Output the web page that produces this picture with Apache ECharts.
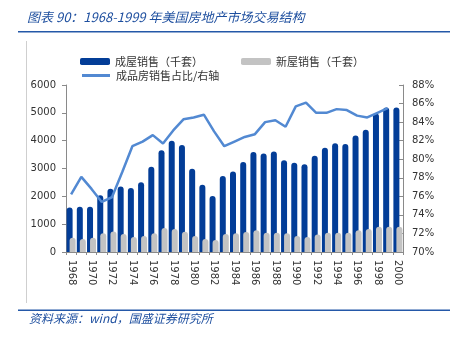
<!DOCTYPE html>
<html>
<head>
<meta charset="utf-8">
<script src="https://cdn.jsdelivr.net/npm/echarts@6/dist/echarts.min.js"></script>
<style>
  html, body { margin: 0; padding: 0; background: #fff; }
  #chart { width: 459px; height: 339px; }
</style>
</head>
<body>
<div id="chart"></div>
<script>
// US housing market 1968-2000: existing vs new home sales (thousand units) and existing-home share
var years = ['1968','1969','1970','1971','1972','1973','1974','1975','1976','1977','1978',
             '1979','1980','1981','1982','1983','1984','1985','1986','1987','1988','1989',
             '1990','1991','1992','1993','1994','1995','1996','1997','1998','1999','2000'];

var existingSales = [1600,1630,1630,2040,2270,2350,2300,2510,3060,3660,4000,
                     3840,2990,2420,2010,2730,2890,3230,3590,3540,3610,3300,
                     3210,3150,3460,3750,3910,3880,4190,4390,4980,5190,5190];

var newSales = [515,470,515,670,740,650,540,575,670,860,825,
                730,575,470,430,650,670,720,780,695,695,670,
                575,540,625,695,695,695,780,825,910,910,910];

var existingShare = [76.2,78.1,76.8,75.4,75.9,78.6,81.4,81.9,82.6,81.7,83.1,
                     84.3,84.5,84.8,83.0,81.4,81.9,82.4,82.7,84.0,84.2,83.5,
                     85.7,86.1,85.0,85.0,85.4,85.3,84.7,84.5,85.0,85.5,null];

var leftTicks = { min: 0, max: 6000, interval: 1000 };
var rightTicks = { min: 70, max: 88, interval: 2 };

var numFont = 'DejaVu Sans, Verdana, sans-serif';
var cjkFont = '"Noto Sans CJK SC", sans-serif';
var titleBlue = '#1e4f9f';

var chart = echarts.init(document.getElementById('chart'), null, { renderer: 'canvas' });

chart.setOption({
  animation: false,
  grid: { left: 66, right: 56, top: 85, bottom: 87, containLabel: false },
  graphic: [
    { type: 'text', left: 27, top: 11,
      style: { text: '图表 90：1968-1999 年美国房地产市场交易结构', fill: titleBlue,
               font: 'italic 13px ' + cjkFont } },
    { type: 'rect', shape: { x: 18, y: 31, width: 432, height: 1.5 }, style: { fill: '#2458a8' } },
    { type: 'rect', shape: { x: 26, y: 41, width: 1, height: 262 }, style: { fill: '#cfcfcf' } },
    { type: 'rect', shape: { x: 18, y: 309.5, width: 432, height: 1.5 }, style: { fill: '#2458a8' } },
    { type: 'text', left: 29, top: 312,
      style: { text: '资料来源：wind，国盛证券研究所', fill: titleBlue,
               font: 'italic 12px ' + cjkFont } }
  ],
  legend: [
    {
      data: ['成屋销售（千套）', '新屋销售（千套）'],
      left: 75, top: 51, itemWidth: 30, itemHeight: 7, itemGap: 38,
      icon: 'roundRect',
      textStyle: { fontFamily: cjkFont, fontSize: 11, color: '#333' }
    },
    {
      data: ['成品房销售占比/右轴'],
      left: 77, top: 65, itemWidth: 28, itemHeight: 3,
      icon: 'rect',
      textStyle: { fontFamily: cjkFont, fontSize: 11, color: '#333', padding: [0, 0, 0, 1] }
    }
  ],
  xAxis: {
    type: 'category',
    data: years,
    axisLine: { lineStyle: { color: '#8a8a8a', width: 1 } },
    axisTick: { show: true, interval: 0, length: 3, lineStyle: { color: '#8a8a8a' } },
    axisLabel: { interval: 1, rotate: -90, margin: 8, color: '#333',
                 fontFamily: numFont, fontSize: 10 }
  },
  yAxis: [
    {
      type: 'value', min: leftTicks.min, max: leftTicks.max, interval: leftTicks.interval,
      splitLine: { show: false },
      axisLine: { show: true, lineStyle: { color: '#8a8a8a' } },
      axisTick: { show: true, length: 4, lineStyle: { color: '#8a8a8a' } },
      axisLabel: { color: '#333', fontFamily: numFont, fontSize: 10, margin: 10,
                   formatter: function (v) { return String(v); } }
    },
    {
      type: 'value', min: rightTicks.min, max: rightTicks.max, interval: rightTicks.interval,
      position: 'right',
      splitLine: { show: false },
      axisLine: { show: true, lineStyle: { color: '#8a8a8a' } },
      axisTick: { show: true, inside: true, length: 4, lineStyle: { color: '#8a8a8a' } },
      axisLabel: { color: '#333', fontFamily: numFont, fontSize: 10, margin: 9,
                   formatter: '{value}%' }
    }
  ],
  series: [
    {
      name: '成屋销售（千套）', type: 'bar', data: existingSales,
      barWidth: 6, barGap: '-50%',
      itemStyle: { color: '#033d97', borderRadius: [3, 3, 0, 0] }
    },
    {
      name: '新屋销售（千套）', type: 'bar', data: newSales,
      barWidth: 6, barGap: '-50%',
      itemStyle: { color: '#c3c3c3', borderRadius: [3, 3, 0, 0] }
    },
    {
      name: '成品房销售占比/右轴', type: 'line', yAxisIndex: 1, data: existingShare,
      symbol: 'none', smooth: false, connectNulls: false,
      lineStyle: { color: '#5289d2', width: 2.5 },
      itemStyle: { color: '#5289d2' }
    }
  ]
});
</script>
</body>
</html>
